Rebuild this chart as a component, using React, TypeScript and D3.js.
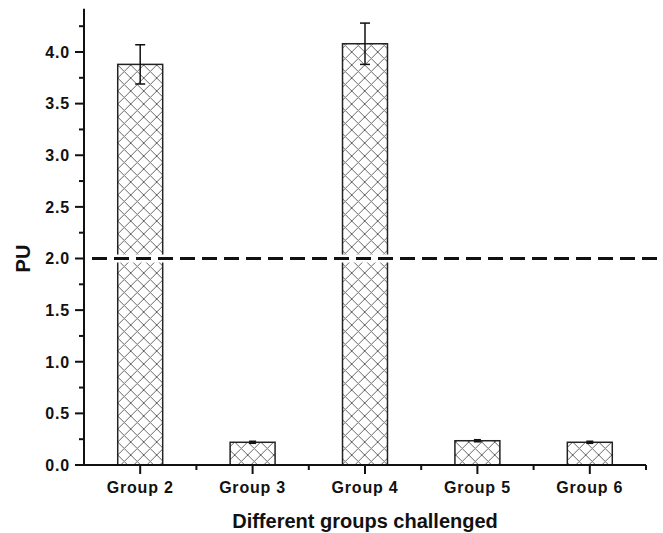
import React from 'react';
import * as d3 from 'd3';

const groups = ['Group 2', 'Group 3', 'Group 4', 'Group 5', 'Group 6'];
const values = [3.88, 0.22, 4.08, 0.235, 0.22];
const errors = [0.19, 0.01, 0.2, 0.01, 0.01];
const yTicks = [0, 0.5, 1, 1.5, 2, 2.5, 3, 3.5, 4];
const yMinorTicks = [0.25, 0.75, 1.25, 1.75, 2.25, 2.75, 3.25, 3.75, 4.25];
const threshold = 2.0;

const W = 663;
const H = 533;
const margin = { top: 10, right: 17, bottom: 68, left: 84 };

export default function App() {
  const x = d3.scaleBand<string>()
    .domain(groups)
    .range([margin.left, W - margin.right])
    .paddingInner(0)
    .paddingOuter(0);

  const y = d3.scaleLinear()
    .domain([0, 4.4])
    .range([H - margin.bottom, H - margin.bottom - 4.4 * 103.25]);

  const y0 = y(0);
  const barW = x.bandwidth() * 0.4;
  const font = '"Liberation Sans", Arial, sans-serif';
  const boundaries = groups.map((g) => x(g)!).concat([x.range()[1]]).slice(1);

  return (
    <svg width={W} height={H} style={{ position: 'absolute', left: 0, top: 0, background: '#fff' }}>
      <defs>
        <pattern id="hatch" patternUnits="userSpaceOnUse" width={13} height={13}
          x={x(groups[0])! + (x.bandwidth() - barW) / 2} y={0}>
          <path d="M0,0 L13,13 M13,0 L0,13" stroke="#666" strokeWidth={1} fill="none" />
        </pattern>
      </defs>

      {/* bars */}
      {groups.map((g, i) => {
        const cx = x(g)! + x.bandwidth() / 2;
        return (
          <rect key={g} x={cx - barW / 2} y={y(values[i])} width={barW}
            height={y0 - y(values[i])} fill="url(#hatch)" stroke="#222" strokeWidth={1.5} />
        );
      })}

      {/* error bars */}
      {groups.map((g, i) => {
        const cx = x(g)! + x.bandwidth() / 2;
        const hi = y(values[i] + errors[i]);
        const lo = y(values[i] - errors[i]);
        const cap = errors[i] > 0.05 ? 5 : 3.5;
        return (
          <g key={g} stroke="#111" strokeWidth={1.5}>
            <line x1={cx} x2={cx} y1={hi} y2={lo} />
            <line x1={cx - cap} x2={cx + cap} y1={hi} y2={hi} />
            <line x1={cx - cap} x2={cx + cap} y1={lo} y2={lo} />
          </g>
        );
      })}

      {/* threshold line */}
      <line x1={90} x2={W} y1={y(threshold)} y2={y(threshold)} stroke="#fff" strokeWidth={8} />
      <line x1={92} x2={W} y1={y(threshold)} y2={y(threshold)} stroke="#111" strokeWidth={3}
        strokeDasharray="15 7" />

      {/* y axis */}
      <line x1={margin.left} x2={margin.left} y1={y0 + 1} y2={y(4.42)} stroke="#111" strokeWidth={2} />
      {yTicks.map((t) => (
        <g key={t}>
          <line x1={margin.left - 9} x2={margin.left} y1={y(t)} y2={y(t)} stroke="#111" strokeWidth={2} />
          <text x={margin.left - 14} y={y(t)} dy="0.36em" textAnchor="end" fontFamily={font}
            fontWeight="bold" fontSize={16} letterSpacing={0.8} fill="#111">{t.toFixed(1)}</text>
        </g>
      ))}
      {yMinorTicks.map((t) => (
        <line key={t} x1={margin.left - 5} x2={margin.left} y1={y(t)} y2={y(t)} stroke="#111" strokeWidth={2} />
      ))}

      {/* x axis */}
      <line x1={margin.left - 1} x2={x.range()[1]} y1={y0} y2={y0} stroke="#111" strokeWidth={2} />
      {groups.map((g) => {
        const cx = x(g)! + x.bandwidth() / 2;
        return (
          <g key={g}>
            <line x1={cx} x2={cx} y1={y0} y2={y0 + 9} stroke="#111" strokeWidth={2} />
            <text x={cx} y={493} textAnchor="middle" fontFamily={font} fontWeight="bold"
              fontSize={16} letterSpacing={0.8} fill="#111">{g}</text>
          </g>
        );
      })}
      {boundaries.map((b, i) => (
        <line key={i} x1={b} x2={b} y1={y0} y2={y0 + 5} stroke="#111" strokeWidth={2} />
      ))}

      {/* axis titles */}
      <text x={(margin.left + x.range()[1]) / 2} y={528} textAnchor="middle" fontFamily={font}
        fontWeight="bold" fontSize={20} fill="#111">Different groups challenged</text>
      <text transform={`translate(30,${y(threshold)}) rotate(-90)`} textAnchor="middle"
        fontFamily={font} fontWeight="bold" fontSize={20} fill="#111">PU</text>
    </svg>
  );
}
